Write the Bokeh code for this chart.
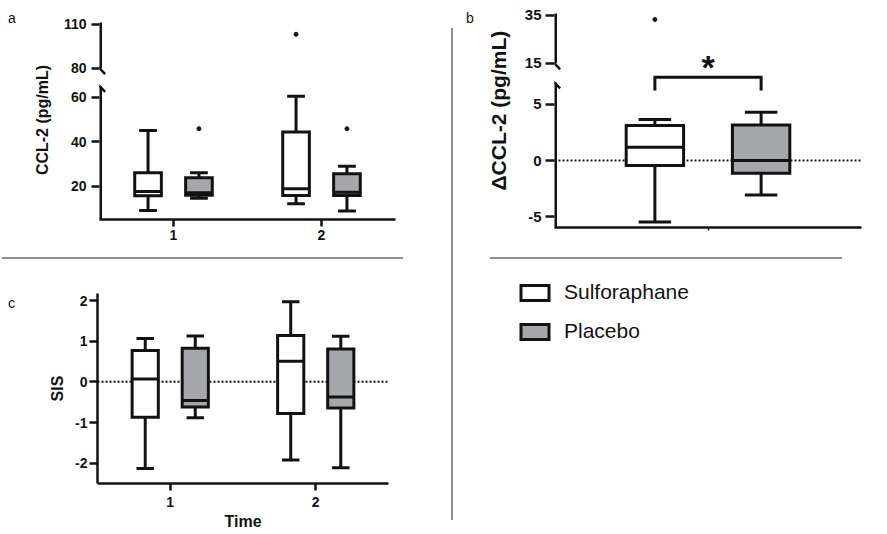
import math
from bokeh.plotting import figure
from bokeh.models import (Range1d, FixedTicker, Span, Arrow, Legend, LegendItem,
                          ColumnDataSource, Div, Title)
from bokeh.layouts import row, column
from bokeh.embed import file_html
from bokeh.resources import INLINE
from bokeh.core.properties import value

# ---------------------------------------------------------------- data
groups = ["Sulforaphane", "Placebo"]
times = [1, 2]
ticks_a = [20, 40, 60, 80, 110]
ticks_b = [-5, 0, 5, 15, 35]
ticks_c = [-2, -1, 0, 1, 2]

# box statistics per time point: [whisker low, Q1, median, Q3, whisker high]
ccl2_sulf = [[9.1, 15.7, 17.6, 26.0, 45.0], [12.1, 15.8, 18.8, 44.3, 60.4]]
ccl2_plac = [[14.6, 15.9, 17.0, 23.8, 26.0], [8.8, 15.8, 17.3, 25.6, 28.9]]
ccl2_sulf_out_time = [2]
ccl2_sulf_out = [103.3]
ccl2_plac_out_time = [1, 2]
ccl2_plac_out = [45.8, 45.8]

dccl2_sulf = [-5.5, -0.45, 1.19, 3.12, 3.66]
dccl2_plac = [-3.07, -1.13, 0.0, 3.18, 4.31]
dccl2_sulf_out = [33.3]

sis_sulf = [[-2.13, -0.87, 0.07, 0.77, 1.07], [-1.92, -0.78, 0.51, 1.14, 1.97]]
sis_plac = [[-0.88, -0.62, -0.46, 0.83, 1.13], [-2.11, -0.64, -0.37, 0.81, 1.12]]

# ---------------------------------------------------------------- style
FONT = "Liberation Sans"
INK = "#121212"
GREY_FILL = "#a5a7ab"
RULE = "#8e8e8e"
LW = 3
AXW = 2.5


class Geo:
    """frame geometry of a figure placed at page origin (ox, oy)"""
    def __init__(self, ox, oy, w, h, l, r, t, b, xr, yr):
        self.w, self.h, self.l, self.r, self.t, self.b = w, h, l, r, t, b
        self.xr, self.yr = xr, yr
        self.fx0 = ox + l
        self.fy0 = oy + t
        self.kx = (w - l - r) / (xr[1] - xr[0])
        self.ky = (h - t - b) / (yr[1] - yr[0])

    def Y(self, py):
        return self.yr[1] - (py - self.fy0) / self.ky


def make_break(lo_top, up_base, up_disp, k):
    def f(v):
        return v if v <= lo_top else up_disp + (v - up_base) * k
    return f


def base_fig(g):
    p = figure(width=g.w, height=g.h, x_range=Range1d(*g.xr), y_range=Range1d(*g.yr),
               toolbar_location=None, output_backend="svg",
               min_border_left=g.l, min_border_right=g.r,
               min_border_top=g.t, min_border_bottom=g.b)
    p.outline_line_color = None
    p.grid.visible = False
    p.background_fill_color = "white"
    p.border_fill_color = "white"
    for ax in p.axis:
        ax.axis_line_width = AXW
        ax.axis_line_color = INK
        ax.major_tick_line_width = AXW
        ax.major_tick_line_color = INK
        ax.major_tick_out = 8
        ax.major_tick_in = 0
        ax.minor_tick_line_color = None
        ax.major_label_standoff = 5
        ax.major_label_text_font = FONT
        ax.major_label_text_font_style = "bold"
        ax.major_label_text_font_size = "14px"
        ax.major_label_text_color = INK
        ax.axis_label_text_font = FONT
        ax.axis_label_text_font_style = "bold"
        ax.axis_label_text_font_size = "16px"
        ax.axis_label_text_color = INK
    return p


def draw_boxes(p, xs, stats, fill, box_w, cap_w, f=lambda v: v):
    src = ColumnDataSource(dict(
        x=xs,
        lo=[f(s[0]) for s in stats], q1=[f(s[1]) for s in stats],
        med=[f(s[2]) for s in stats], q3=[f(s[3]) for s in stats],
        hi=[f(s[4]) for s in stats],
        left=[x - box_w / 2 for x in xs], right=[x + box_w / 2 for x in xs],
        cl=[x - cap_w / 2 for x in xs], cr=[x + cap_w / 2 for x in xs],
    ))
    kw = dict(source=src, line_width=LW, line_color=INK)
    p.segment("x", "q3", "x", "hi", **kw)
    p.segment("x", "lo", "x", "q1", **kw)
    p.quad(left="left", right="right", bottom="q1", top="q3", fill_color=fill,
           line_join="miter", **kw)
    p.segment("left", "med", "right", "med", **kw)
    p.segment("cl", "hi", "cr", "hi", **kw)
    p.segment("cl", "lo", "cr", "lo", **kw)


def axis_piece(p, x, y0, y1):
    # drawn twice as wide: the frame keeps the inner half
    p.add_layout(Arrow(start=None, end=None, x_start=x, y_start=y0, x_end=x, y_end=y1,
                       line_width=2 * AXW, line_color=INK))


def slash(p, g, x, y):
    dx, dy = 5.7 / g.kx, 5.8 / g.ky
    p.add_layout(Arrow(start=None, end=None, x_start=x - dx, y_start=y + dy,
                       x_end=x + dx, y_end=y - dy, line_width=AXW, line_color=INK))


def letter_div(txt, w, h, left, top):
    html = ('<div style="padding:%dpx 0 0 %dpx;font-family:\'Liberation Sans\';'
            'font-size:14px;line-height:14px;color:%s">%s</div>' % (top, left, INK, txt))
    return Div(text=html, width=w, height=h, margin=(0, 0, 0, 0))


OFF = 0.172

# ---------------------------------------------------------------- panel a
ga = Geo(30, 0, 421, 257, 65, 56, 20, 38, (0.5, 2.5), (5.0, 94.45))
brk_a = make_break(65.0, 80.0, 73.0, 0.6557)
pa = base_fig(ga)
draw_boxes(pa, [t - OFF for t in times], ccl2_sulf, "white", 0.18, 0.12, brk_a)
draw_boxes(pa, [t + OFF for t in times], ccl2_plac, GREY_FILL, 0.18, 0.12, brk_a)
pa.scatter([t - OFF for t in ccl2_sulf_out_time], [brk_a(v) for v in ccl2_sulf_out],
           size=4, color=INK)
pa.scatter([t + OFF for t in ccl2_plac_out_time], [brk_a(v) for v in ccl2_plac_out],
           size=4, color=INK)
pa.xaxis.ticker = FixedTicker(ticks=times)
pa.xaxis.major_tick_out = 7
pa.xaxis.major_label_standoff = 3
ya = [brk_a(v) for v in ticks_a]
pa.yaxis.ticker = FixedTicker(ticks=ya)
pa.yaxis.major_label_overrides = {d: str(v) for d, v in zip(ya, ticks_a)}
pa.yaxis.axis_line_color = None
pa.yaxis.axis_label = "CCL-2 (pg/mL)"
pa.yaxis.axis_label_standoff = 10
axis_piece(pa, 0.5, ga.yr[0], 65.0)
axis_piece(pa, 0.5, brk_a(80), brk_a(111.4))
slash(pa, ga, 0.5, brk_a(80))
slash(pa, ga, 0.5, 65.0)

# ---------------------------------------------------------------- panel b
gb = Geo(475, 0, 409, 257, 75, 23, 11, 30, (0.0, 1.0), (-5.98, 13.3))
brk_b = make_break(6.96, 15.0, 8.66, 0.2145)
pb = base_fig(gb)
pb.add_layout(Span(location=0, dimension="width", line_color=INK, line_width=2,
                   line_dash="2 2", level="underlay"))
xs_b = [0.5 - 0.173, 0.5 + 0.173]
draw_boxes(pb, [xs_b[0]], [dccl2_sulf], "white", 0.187, 0.106, brk_b)
draw_boxes(pb, [xs_b[1]], [dccl2_plac], GREY_FILL, 0.187, 0.106, brk_b)
pb.scatter([xs_b[0]] * len(dccl2_sulf_out), [brk_b(v) for v in dccl2_sulf_out],
           size=4, color=INK)
# significance bracket and star
BR_TOP, BR_FOOT = 7.44, 6.25
pb.line([xs_b[0], xs_b[0], xs_b[1], xs_b[1]], [BR_FOOT, BR_TOP, BR_TOP, BR_FOOT],
        line_width=LW, line_color=INK, line_join="miter")
pb.text([0.5], [gb.Y(66.5)], text=["*"], text_font=value(FONT), text_font_size="34px",
        text_font_style="bold", text_color=INK, text_align="center", text_baseline="middle")
pb.xaxis.ticker = FixedTicker(ticks=[0.5])
pb.xaxis.major_label_overrides = {0.5: ""}
pb.xaxis.major_tick_out = 3
pb.xaxis.major_tick_line_width = 1.5
yb = [brk_b(v) for v in ticks_b]
pb.yaxis.ticker = FixedTicker(ticks=yb)
pb.yaxis.major_label_overrides = {d: str(v) for d, v in zip(yb, ticks_b)}
pb.yaxis.major_label_text_font_size = "15px"
pb.yaxis.major_tick_out = 9
pb.yaxis.major_label_standoff = 4
pb.yaxis.axis_line_color = None
axis_piece(pb, 0.0, gb.yr[0], 6.96)
axis_piece(pb, 0.0, brk_b(15), brk_b(35.8))
slash(pb, gb, 0.0, brk_b(15))
slash(pb, gb, 0.0, 6.96)
pb.add_layout(Title(text="\u0394CCL-2 (pg/mL)", align="left", offset=37,
                    vertical_align="middle", standoff=21, text_font=FONT,
                    text_font_size="21px", text_font_style="bold", text_color=INK), "left")

# ---------------------------------------------------------------- panel c
gc = Geo(30, 259, 421, 275, 67, 63, 34, 51, (0.5, 2.5), (-2.5, 2.174))
pc = base_fig(gc)
pc.add_layout(Span(location=0, dimension="width", line_color=INK, line_width=2,
                   line_dash="2 2", level="underlay"))
draw_boxes(pc, [t - OFF for t in times], sis_sulf, "white", 0.18, 0.12)
draw_boxes(pc, [t + OFF for t in times], sis_plac, GREY_FILL, 0.18, 0.12)
pc.xaxis.ticker = FixedTicker(ticks=times)
pc.xaxis.major_tick_out = 7
pc.xaxis.axis_label = "Time"
pc.xaxis.axis_label_standoff = 3
pc.xaxis.major_label_standoff = 6
pc.yaxis.ticker = FixedTicker(ticks=ticks_c)
pc.yaxis.major_label_overrides = {v: str(v) for v in ticks_c}
pc.yaxis.major_label_standoff = 2
pc.yaxis.axis_label = "SIS"
pc.yaxis.axis_label_standoff = 6

# ---------------------------------------------------------------- legend panel
pl = figure(width=431, height=275, x_range=Range1d(0, 1), y_range=Range1d(0, 1),
            x_axis_location=None, y_axis_location=None,
            toolbar_location=None, output_backend="svg",
            min_border_left=64, min_border_top=21, min_border_right=5, min_border_bottom=5)
pl.outline_line_color = None
pl.grid.visible = False
r1 = pl.quad(left=[0], right=[0], top=[0], bottom=[0], fill_color="white",
             line_color=INK, line_width=LW, line_join="miter", visible=False)
r2 = pl.quad(left=[0], right=[0], top=[0], bottom=[0], fill_color=GREY_FILL,
             line_color=INK, line_width=LW, line_join="miter", visible=False)
leg = Legend(items=[LegendItem(label=groups[0], renderers=[r1]),
                    LegendItem(label=groups[1], renderers=[r2])],
             location="top_left", margin=0, padding=0, spacing=15,
             glyph_width=35, glyph_height=19, label_height=19, label_standoff=12,
             border_line_color=None, background_fill_alpha=0, inactive_fill_alpha=0,
             label_text_font=FONT, label_text_font_size="21px", label_text_color=INK)
pl.add_layout(leg)

# ---------------------------------------------------------------- layout
hsep_a = Div(text="", width=401, height=2, margin=(0, 0, 0, 2),
             styles={"background-color": RULE})
hsep_b = Div(text="", width=352, height=2, margin=(0, 0, 0, 37),
             styles={"background-color": RULE})
vsep = Div(text="", width=2, height=492, margin=(28, 0, 0, 0),
           styles={"background-color": RULE})

left_col = column(row(letter_div("a", 30, 257, 8, 11), pa), hsep_a,
                  row(letter_div("c", 30, 275, 8, 37), pc))
right_col = column(row(letter_div("b", 22, 257, 13, 11), pb), hsep_b, pl)
layout = row(left_col, vsep, right_col)

open("out.html", "w").write(file_html(layout, INLINE))
